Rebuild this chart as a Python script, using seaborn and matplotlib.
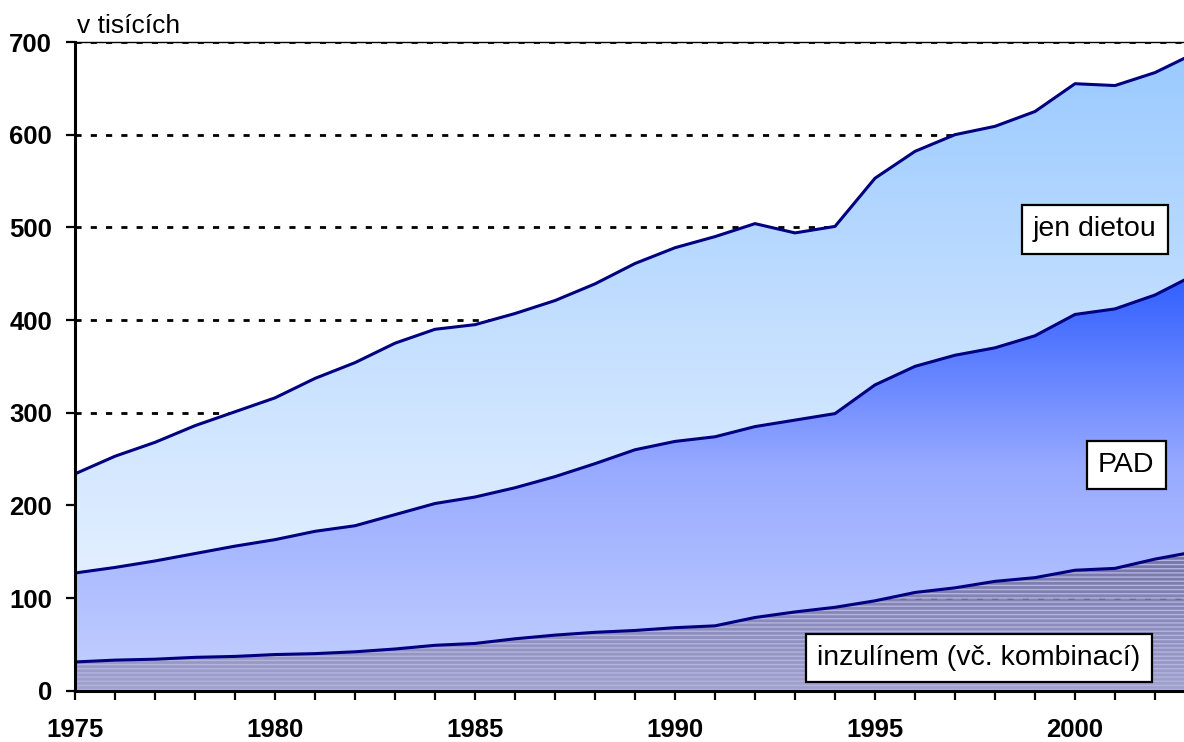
import numpy as np
import pandas as pd
import matplotlib
matplotlib.use("Agg")
import matplotlib.pyplot as plt
from matplotlib.colors import LinearSegmentedColormap
from matplotlib.ticker import MultipleLocator
import seaborn as sns

# pocty pacientu (v tisicich) podle zpusobu lecby
years = list(range(1975, 2004))
inzulin = [31, 33, 34, 36, 37, 39, 40, 42, 45, 49, 51, 56, 60, 63, 65, 68, 70, 79, 85, 90,
           97, 106, 111, 118, 122, 130, 132, 142, 150]
pad = [96, 100, 106, 112, 119, 124, 132, 136, 145, 153, 158, 163, 171, 182, 195, 201, 204, 206, 207, 209,
       233, 244, 251, 252, 261, 276, 280, 285, 299]
dieta = [107, 120, 128, 138, 145, 153, 165, 176, 185, 188, 186, 188, 190, 194, 201, 209, 216, 219, 202, 202,
         223, 232, 238, 239, 242, 249, 241, 240, 239]

labels = ["inzulínem (vč. kombinací)", "PAD", "jen dietou"]
yticks = list(range(0, 800, 100))
xticklabels = [1975, 1980, 1985, 1990, 1995, 2000]

df = pd.DataFrame({"rok": years, "inzulin": inzulin, "pad": pad, "dieta": dieta})
df["c1"] = df["inzulin"]
df["c2"] = df["c1"] + df["pad"]
df["c3"] = df["c2"] + df["dieta"]

sns.set_theme(style="white")
plt.rcParams["font.family"] = ["Liberation Sans", "DejaVu Sans"]
plt.rcParams["text.color"] = "black"
plt.rcParams["xtick.color"] = "black"
plt.rcParams["ytick.color"] = "black"

W, H = 1184, 742
fig = plt.figure(figsize=(W / 100, H / 100), dpi=100)
ax = fig.add_axes([75 / W, 1 - 690.7 / H, 1109 / W, 648.7 / H])


def gradient_area(ax, x, lo, hi, stops, alpha=1.0, z=1):
    poly = ax.fill_between(x, lo, hi, facecolor="none", edgecolor="none")
    cmap = LinearSegmentedColormap.from_list("g", stops)
    grad = np.linspace(0, 1, 256).reshape(-1, 1)
    im = ax.imshow(grad, cmap=cmap, aspect="auto", origin="lower", alpha=alpha,
                   extent=[x.min(), x.max(), lo.min(), hi.max()], zorder=z)
    im.set_clip_path(poly.get_paths()[0], transform=ax.transData)
    return poly


x = df["rok"].to_numpy(dtype=float)
zero = np.zeros_like(x)
c1 = df["c1"].to_numpy(dtype=float)
c2 = df["c2"].to_numpy(dtype=float)
c3 = df["c3"].to_numpy(dtype=float)

gradient_area(ax, x, c2, c3, ["#E2EFFF", "#C2DEFF", "#9ACAFF"])
gradient_area(ax, x, c1, c2, ["#BFCCFF", "#98AAFF", "#2F5EFF"])
gradient_area(ax, x, zero, c1, ["#9898CA", "#62629E"], alpha=0.9)
ax.fill_between(x, zero, c1, facecolor="none", edgecolor="#B4B4DC", hatch="----", lw=0, zorder=1.2)

for col in ["c1", "c2", "c3"]:
    sns.lineplot(data=df, x="rok", y=col, ax=ax, color="#000080", lw=2.2, zorder=3)

ax.set_xlim(1975, 1975 + 1109 / 40)
ax.set_ylim(0, 700)
ax.set_xlabel("")
ax.set_ylabel("")

ax.set_yticks(yticks)
ax.set_xticks(xticklabels)
ax.xaxis.set_minor_locator(MultipleLocator(1))
ax.tick_params(axis="y", which="major", direction="out", length=6.5, width=1.6, pad=10,
               labelsize=18.5, left=True)
ax.tick_params(axis="x", which="both", direction="out", length=6.5, width=1.6, bottom=True)
ax.tick_params(axis="x", which="major", pad=13, labelsize=18.5)
for lab in ax.get_xticklabels() + ax.get_yticklabels():
    lab.set_fontweight("bold")

ax.set_axisbelow(True)
ax.yaxis.grid(True, color="black", lw=2.0, linestyle=(0, (2.2, 3.3)))
ax.xaxis.grid(False)

ax.spines["right"].set_visible(False)
ax.spines["top"].set_linewidth(1.0)
ax.spines["top"].set_color("black")
for s in ["left", "bottom"]:
    ax.spines[s].set_linewidth(2.2)
    ax.spines[s].set_color("black")
    ax.spines[s].set_zorder(4)

box = dict(boxstyle="square,pad=0.4", facecolor="white", edgecolor="black", lw=1.6)
ax.text(2000.5, 498, labels[2], ha="center", va="center", fontsize=20.5, bbox=box, zorder=5)
ax.text(2001.28, 243.5, labels[1], ha="center", va="center", fontsize=20.5, bbox=box, zorder=5)
ax.text(1997.6, 35.3, labels[0], ha="center", va="center", fontsize=20.5, bbox=box, zorder=5)

fig.text(77 / W, 1 - 33 / H, "v tisících", fontsize=19, ha="left", va="baseline")

fig.savefig("out.png", dpi=100)
